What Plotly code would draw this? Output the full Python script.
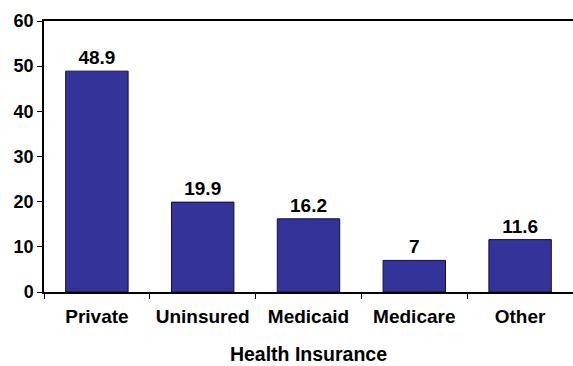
import plotly.graph_objects as go

categories = ["Private", "Uninsured", "Medicaid", "Medicare", "Other"]
values = [48.9, 19.9, 16.2, 7, 11.6]
value_labels = ["48.9", "19.9", "16.2", "7", "11.6"]
y_ticks = [0, 10, 20, 30, 40, 50, 60]

FONT = "Liberation Sans, Arial, sans-serif"

fig = go.Figure(
    go.Bar(
        x=categories,
        y=values,
        text=value_labels,
        textposition="outside",
        cliponaxis=False,
        textfont=dict(family=FONT, size=19, color="black", weight="bold"),
        marker=dict(color="#333399", line=dict(color="#111133", width=1)),
        width=0.59,
    )
)

fig.update_layout(
    width=573,
    height=366,
    margin=dict(l=44, r=0, t=21, b=74),
    paper_bgcolor="white",
    plot_bgcolor="white",
    showlegend=False,
    font=dict(family=FONT, color="black"),
)

fig.update_xaxes(
    title=dict(text="Health Insurance", font=dict(family=FONT, size=19.5, weight="bold"), standoff=22),
    tickfont=dict(family=FONT, size=19, weight="bold"),
    ticklabelstandoff=6,
    showline=True,
    linecolor="black",
    linewidth=1.5,
    mirror=True,
    ticks="outside",
    tickson="boundaries",
    ticklen=5,
    tickcolor="black",
    showgrid=False,
    range=[-0.5, 4.5],
)

fig.update_yaxes(
    range=[0, 60],
    tickvals=y_ticks,
    tickfont=dict(family=FONT, size=18, weight="bold"),
    showline=True,
    linecolor="black",
    linewidth=1.5,
    ticks="outside",
    ticklen=5,
    tickcolor="black",
    showgrid=False,
    zeroline=False,
)

fig.write_html(
    "out.html",
    config={"displayModeBar": False},
    post_script="document.body.style.margin='0';document.body.style.overflow='hidden';",
)
